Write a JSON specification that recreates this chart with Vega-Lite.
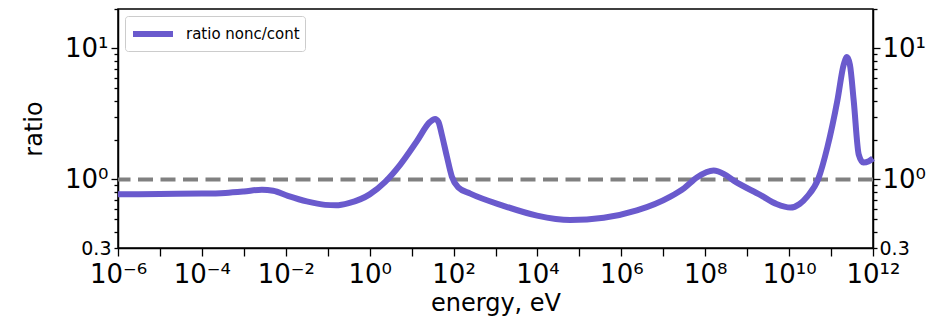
{
  "$schema": "https://vega.github.io/schema/vega-lite/v6.json",
  "autosize": "none",
  "width": 755,
  "height": 239,
  "padding": {"left": 118, "top": 9, "right": 57, "bottom": 73},
  "background": "white",
  "config": {
    "font": "DejaVu Sans",
    "view": {"stroke": "black", "strokeWidth": 1.5},
    "axis": {"domainColor": "black", "domainWidth": 1.5, "tickColor": "black", "tickWidth": 1.3, "labelColor": "black", "titleColor": "black", "grid": false, "labelFont": "DejaVu Sans", "titleFont": "DejaVu Sans", "titleFontWeight": "normal"}
  },
  "datasets": {
    "curve": [
      {"energy": 1e-6, "ratio": 0.77, "series": "ratio nonc/cont"},
      {"energy": 1e-5, "ratio": 0.775, "series": "ratio nonc/cont"},
      {"energy": 1e-4, "ratio": 0.78, "series": "ratio nonc/cont"},
      {"energy": 3.63e-4, "ratio": 0.79, "series": "ratio nonc/cont"},
      {"energy": 1e-3, "ratio": 0.81, "series": "ratio nonc/cont"},
      {"energy": 2.69e-3, "ratio": 0.835, "series": "ratio nonc/cont"},
      {"energy": 5.01e-3, "ratio": 0.82, "series": "ratio nonc/cont"},
      {"energy": 1.12e-2, "ratio": 0.75, "series": "ratio nonc/cont"},
      {"energy": 3.16e-2, "ratio": 0.68, "series": "ratio nonc/cont"},
      {"energy": 8.71e-2, "ratio": 0.64, "series": "ratio nonc/cont"},
      {"energy": 0.158, "ratio": 0.635, "series": "ratio nonc/cont"},
      {"energy": 0.316, "ratio": 0.66, "series": "ratio nonc/cont"},
      {"energy": 1, "ratio": 0.77, "series": "ratio nonc/cont"},
      {"energy": 2.34, "ratio": 0.96, "series": "ratio nonc/cont"},
      {"energy": 5.37, "ratio": 1.3, "series": "ratio nonc/cont"},
      {"energy": 13.2, "ratio": 1.95, "series": "ratio nonc/cont"},
      {"energy": 27.5, "ratio": 2.75, "series": "ratio nonc/cont"},
      {"energy": 36.3, "ratio": 2.9, "series": "ratio nonc/cont"},
      {"energy": 43.7, "ratio": 2.75, "series": "ratio nonc/cont"},
      {"energy": 52.5, "ratio": 2.2, "series": "ratio nonc/cont"},
      {"energy": 69.2, "ratio": 1.5, "series": "ratio nonc/cont"},
      {"energy": 91.2, "ratio": 1.05, "series": "ratio nonc/cont"},
      {"energy": 129, "ratio": 0.87, "series": "ratio nonc/cont"},
      {"energy": 251, "ratio": 0.78, "series": "ratio nonc/cont"},
      {"energy": 1549, "ratio": 0.63, "series": "ratio nonc/cont"},
      {"energy": 9772, "ratio": 0.53, "series": "ratio nonc/cont"},
      {"energy": 60256, "ratio": 0.49, "series": "ratio nonc/cont"},
      {"energy": 380189, "ratio": 0.51, "series": "ratio nonc/cont"},
      {"energy": 2344229, "ratio": 0.58, "series": "ratio nonc/cont"},
      {"energy": 1.479e7, "ratio": 0.74, "series": "ratio nonc/cont"},
      {"energy": 3.162e7, "ratio": 0.86, "series": "ratio nonc/cont"},
      {"energy": 6.457e7, "ratio": 1.04, "series": "ratio nonc/cont"},
      {"energy": 1.585e8, "ratio": 1.17, "series": "ratio nonc/cont"},
      {"energy": 2.818e8, "ratio": 1.1, "series": "ratio nonc/cont"},
      {"energy": 4.786e8, "ratio": 0.98, "series": "ratio nonc/cont"},
      {"energy": 2.089e9, "ratio": 0.76, "series": "ratio nonc/cont"},
      {"energy": 5.012e9, "ratio": 0.65, "series": "ratio nonc/cont"},
      {"energy": 1.072e10, "ratio": 0.61, "series": "ratio nonc/cont"},
      {"energy": 1.778e10, "ratio": 0.65, "series": "ratio nonc/cont"},
      {"energy": 2.692e10, "ratio": 0.74, "series": "ratio nonc/cont"},
      {"energy": 5.012e10, "ratio": 1.02, "series": "ratio nonc/cont"},
      {"energy": 8.128e10, "ratio": 1.75, "series": "ratio nonc/cont"},
      {"energy": 1.413e11, "ratio": 4.0, "series": "ratio nonc/cont"},
      {"energy": 1.995e11, "ratio": 7.5, "series": "ratio nonc/cont"},
      {"energy": 2.399e11, "ratio": 8.6, "series": "ratio nonc/cont"},
      {"energy": 2.818e11, "ratio": 7.5, "series": "ratio nonc/cont"},
      {"energy": 3.467e11, "ratio": 4.0, "series": "ratio nonc/cont"},
      {"energy": 4.571e11, "ratio": 1.55, "series": "ratio nonc/cont"},
      {"energy": 5.888e11, "ratio": 1.35, "series": "ratio nonc/cont"},
      {"energy": 7.943e11, "ratio": 1.38, "series": "ratio nonc/cont"},
      {"energy": 1e12, "ratio": 1.45, "series": "ratio nonc/cont"}
    ],
    "ref": [{"level": 1}]
  },
  "layer": [
    {
      "data": {"name": "ref"},
      "mark": {"type": "rule", "color": "#808080", "strokeWidth": 4, "strokeDash": [15, 7.5]},
      "encoding": {
        "y": {"field": "level", "type": "quantitative",
          "scale": {"type": "log", "domain": [0.3, 20], "nice": false},
          "axis": {"orient": "right", "title": null,
            "values": [0.3, 0.4, 0.5, 0.6, 0.7, 0.8, 0.9, 1, 2, 3, 4, 5, 6, 7, 8, 9, 10, 20],
            "labelExpr": "datum.value == 0.3 ? '0.3' : datum.value == 1 ? '10⁰' : datum.value == 10 ? '10¹' : ''",
            "tickSize": {"condition": {"test": "datum.value == 1 || datum.value == 10", "value": 7}, "value": 4},
            "labelFontSize": {"condition": {"test": "datum.value == 0.3", "value": 19}, "value": 26},
            "labelPadding": 2, "labelOverlap": false, "labelFlush": false}
        }
      }
    },
    {
      "data": {"name": "curve"},
      "mark": {"type": "line", "strokeWidth": 6, "interpolate": "monotone"},
      "encoding": {
        "x": {"field": "energy", "type": "quantitative",
          "scale": {"type": "log", "domain": [1e-6, 1e12], "nice": false},
          "axis": {"title": "energy, eV", "titleFontSize": 24, "labelFontSize": 26,
            "values": [1e-6, 1e-5, 1e-4, 1e-3, 1e-2, 1e-1, 1, 10, 100, 1000, 1e4, 1e5, 1e6, 1e7, 1e8, 1e9, 1e10, 1e11, 1e12],
            "labelExpr": "['10⁻⁶','','10⁻⁴','','10⁻²','','10⁰','','10²','','10⁴','','10⁶','','10⁸','','10¹⁰','','10¹²'][round(log(datum.value)/LN10)+6]",
            "tickSize": 8, "labelPadding": 5, "titlePadding": 4, "labelOverlap": false, "labelFlush": false}
        },
        "y": {"field": "ratio", "type": "quantitative",
          "scale": {"type": "log", "domain": [0.3, 20], "nice": false},
          "axis": {"orient": "left", "title": "ratio", "titleFontSize": 24, "titlePadding": 18,
            "values": [0.3, 0.4, 0.5, 0.6, 0.7, 0.8, 0.9, 1, 2, 3, 4, 5, 6, 7, 8, 9, 10, 20],
            "labelExpr": "datum.value == 0.3 ? '0.3' : datum.value == 1 ? '10⁰' : datum.value == 10 ? '10¹' : ''",
            "tickSize": {"condition": {"test": "datum.value == 1 || datum.value == 10", "value": 7}, "value": 4},
            "labelFontSize": {"condition": {"test": "datum.value == 0.3", "value": 19}, "value": 26},
            "labelPadding": 3, "labelOverlap": false, "labelFlush": false}
        },
        "color": {"field": "series", "type": "nominal",
          "scale": {"range": ["#6a5acd"]},
          "legend": {"title": null, "orient": "top-left", "offset": 7, "symbolType": "M-1,0H3", "symbolSize": 400, "symbolStrokeWidth": 6, "symbolFillColor": "transparent", "labelFontSize": 15, "labelFont": "DejaVu Sans", "labelColor": "black", "strokeColor": "#cccccc", "fillColor": "white", "padding": 5, "cornerRadius": 3, "labelOffset": 30}
        }
      }
    }
  ],
  "resolve": {"scale": {"y": "shared"}, "axis": {"y": "independent"}}
}
